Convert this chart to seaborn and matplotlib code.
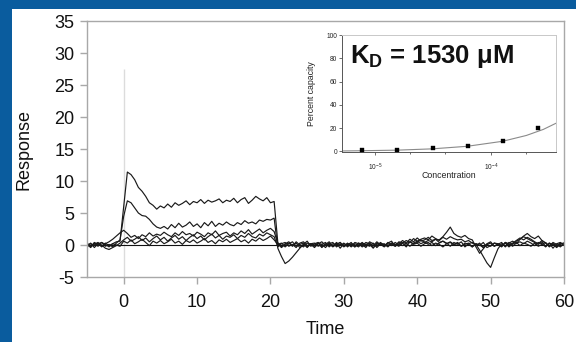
import numpy as np
import pandas as pd
import matplotlib
matplotlib.use("Agg")
import matplotlib.pyplot as plt
import seaborn as sns
from matplotlib.patches import Rectangle
from matplotlib.ticker import FixedLocator, NullFormatter

sns.set_style("white")
plt.rcParams["font.family"] = ["Liberation Sans", "DejaVu Sans"]
plt.rcParams["axes.unicode_minus"] = False
plt.rcParams["mathtext.fontset"] = "custom"
plt.rcParams["mathtext.rm"] = "Liberation Sans"
plt.rcParams["mathtext.bf"] = "Liberation Sans:bold"
plt.rcParams["mathtext.it"] = "Liberation Sans:italic"

# ---------------- data ----------------
time = np.arange(-5, 60.01, 0.5)  # sampling grid, s

trace_a = [0.2, -0.3, 0.4, 0.1, -0.2, 0.3, -0.1, 0.2, 0.5, 0.6,
           6.0, 11.4, 11.0, 10.2, 9.0, 8.4, 7.6, 6.6, 6.2, 5.6,
           6.1, 5.8, 6.4, 5.9, 6.6, 6.2, 6.5, 6.9, 6.3, 6.8,
           6.6, 7.1, 6.5, 7.0, 6.7, 6.9, 7.2, 6.6, 7.0, 6.8,
           7.3, 6.6, 7.1, 7.4, 6.5, 7.0, 7.6, 7.2, 6.9, 7.4,
           6.6, 6.8,
           0.4, -0.3, 0.2, 0.5, -0.1, 0.3, -0.4, 0.1, 0.6, -0.2,
           0.2, 0.4, -0.3, 0.1, 0.5, -0.2, 0.3, -0.5, 0.2, 0.0,
           0.4, -0.3, 0.3, 0.1, -0.4, 0.5, 0.2, -0.2, 0.4, -0.1,
           0.3, 0.6, -0.2, 0.2, 0.7, 0.3, 0.9, 0.5, 1.1, 0.6,
           0.8, 1.2, 0.7, 0.9, 0.4, 0.6, 0.3, -0.2, 0.4, 0.1,
           0.5, -0.3, 0.2, 0.4, -0.1, 0.3, -0.4, 0.2, 0.5, -0.2,
           0.1, 0.4, -0.3, 0.3, 0.6, 0.2, 0.9, 1.3, 1.0, 0.7,
           0.4, 0.1, 0.5, -0.2, 0.3, -0.5, 0.2, 0.4, 0.0]

trace_b = [-0.1, 0.3, -0.4, 0.2, 0.4, -0.2, 0.1, -0.3, 0.3, 0.8,
           4.5, 6.9, 6.6, 5.8, 5.0, 4.6, 4.5, 4.0, 3.3, 2.8,
           2.6, 2.9, 2.5, 3.2, 2.7, 3.4, 2.8, 3.1, 3.6, 2.9,
           3.3, 2.7, 3.5, 3.0, 3.7, 2.9, 3.4, 3.1, 3.6, 3.2,
           3.0, 3.5, 3.2, 3.8, 3.4, 3.6, 3.3, 3.9, 3.7, 4.0,
           3.9, 4.2,
           -0.5, -1.8, -2.9, -2.5, -1.9, -1.2, -0.5, 0.1, -0.3, 0.2,
           -0.2, 0.3, 0.1, -0.4, 0.2, 0.4, -0.3, 0.1, -0.2, 0.3,
           -0.3, 0.2, 0.0, 0.4, -0.2, 0.1, -0.5, 0.3, 0.1, -0.3,
           0.2, -0.1, 0.4, 0.0, 0.3, -0.3, 0.5, 0.2, 0.4, 0.8,
           0.4, 0.7, 0.5, 0.9, 0.8, 1.3, 2.0, 2.8, 1.8, 1.4,
           1.2, 1.5, 1.0, 0.8, -0.3, -1.3, -0.6, 0.1, -0.2, 0.3,
           0.1, -0.3, 0.4, 0.2, -0.2, 0.3, 0.5, 0.2, 0.6, 0.3,
           -0.1, 0.4, 0.2, -0.3, 0.3, 0.1, -0.4, 0.2, 0.3]

trace_c = [0.3, -0.2, 0.1, 0.4, -0.3, 0.2, 0.5, 0.9, 1.4, 1.9,
           2.3, 1.8, 1.2, 1.5, 1.0, 1.6, 1.3, 1.9, 1.4, 1.7,
           1.5, 2.0, 1.6, 1.3, 1.9, 1.5, 2.1, 1.6, 1.8, 1.4,
           2.0, 1.7, 1.3, 1.9, 1.6, 2.2, 1.5, 1.8, 2.0, 1.4,
           1.9, 1.6, 2.2, 1.8, 2.4, 1.7, 2.1, 2.5, 1.9, 2.3,
           2.6, 2.1,
           0.2, -0.4, 0.1, 0.3, -0.2, 0.5, 0.0, -0.3, 0.3, 0.1,
           -0.4, 0.2, 0.5, -0.1, 0.3, -0.3, 0.1, 0.4, -0.2, 0.2,
           0.1, -0.3, 0.3, -0.1, 0.4, 0.2, -0.4, 0.1, 0.3, -0.2,
           0.4, 0.1, -0.2, 0.5, 0.3, 0.7, 0.4, 1.0, 0.6, 0.9,
           1.1, 0.8, 1.4, 1.0, 0.7, 1.2, 0.9, 1.3, 1.0, 0.8,
           0.9, 0.5, 0.7, 0.3, 0.1, -0.8, -1.8, -2.8, -3.5, -2.0,
           -0.6, 0.2, -0.2, 0.4, 0.1, 0.6, 0.9, 1.4, 1.8, 1.3,
           1.0, 1.4, 0.7, 0.3, -0.2, 0.4, 0.1, -0.3, 0.2]

trace_d = [-0.3, 0.2, -0.1, 0.3, 0.0, -0.5, -0.7, -0.4, -0.1, 0.3,
           0.8, 1.2, 0.6, 0.9, 1.3, 0.7, 1.1, 0.5, 1.0, 1.4,
           0.8, 1.2, 0.6, 1.1, 1.5, 0.9, 1.3, 0.7, 1.2, 1.6,
           1.0, 1.4, 0.8, 1.3, 1.7, 1.1, 1.5, 0.9, 1.4, 1.2,
           1.6, 1.0, 1.5, 1.2, 1.8, 1.3, 1.1, 1.7, 1.4, 1.9,
           1.6, 1.3,
           -0.3, 0.2, 0.4, -0.2, 0.1, -0.4, 0.3, 0.5, -0.1, 0.2,
           0.3, -0.2, 0.1, 0.4, -0.3, 0.2, 0.0, 0.4, -0.3, 0.1,
           -0.2, 0.4, 0.2, -0.3, 0.1, 0.3, -0.1, 0.5, 0.0, 0.2,
           -0.3, 0.3, 0.1, -0.2, 0.4, 0.2, -0.2, 0.3, 0.6, 0.2,
           0.5, 0.1, 0.4, -0.1, 0.3, 0.6, 0.2, 0.5, 0.1, 0.4,
           -0.2, 0.3, 0.1, -0.3, 0.2, -0.1, 0.4, -0.4, -0.1, 0.3,
           0.2, -0.2, 0.4, 0.0, 0.3, 0.7, 1.1, 0.8, 1.2, 0.9,
           0.5, 0.2, 0.7, 0.3, -0.1, 0.2, -0.3, 0.1, 0.3]

trace_e = [0.1, -0.4, 0.3, -0.2, 0.4, 0.1, -0.3, 0.2, 0.0, -0.2,
           0.6, 0.3, 0.8, 0.2, 0.5, 0.9, 0.4, -0.1, 0.6, 0.3,
           0.7, 0.2, 0.5, 0.9, 0.3, 0.6, 0.1, 0.7, 0.4, 0.8,
           0.3, 0.6, 1.0, 0.4, 0.7, 0.2, 0.8, 0.5, 0.9, 0.4,
           0.7, 1.0, 0.5, 0.8, 0.3, 0.9, 0.6, 1.1, 0.7, 1.0,
           1.4, 0.8,
           0.1, 0.3, -0.3, 0.2, 0.5, -0.2, 0.1, 0.3, -0.4, 0.2,
           0.0, 0.3, -0.4, 0.2, 0.1, -0.2, 0.4, -0.1, 0.3, -0.3,
           0.2, 0.0, -0.3, 0.3, 0.1, -0.2, 0.3, -0.4, 0.2, 0.1,
           -0.2, 0.3, 0.0, 0.4, -0.1, 0.2, 0.5, 0.1, 0.3, -0.2,
           0.2, 0.4, -0.1, 0.3, 0.1, -0.3, 0.2, 0.4, 0.0, 0.3,
           -0.2, 0.1, 0.3, -0.3, 0.2, 0.0, -0.4, 0.1, 0.3, -0.2,
           0.2, -0.1, 0.3, -0.3, 0.2, 0.4, -0.1, 0.3, 0.1, -0.2,
           0.3, -0.2, 0.1, 0.4, -0.3, 0.2, -0.1, 0.3, 0.0]

traces = {"A": trace_a, "B": trace_b, "C": trace_c, "D": trace_d, "E": trace_e}

# inset: binding isotherm
concentration = [7.8e-6, 1.56e-5, 3.13e-5, 6.25e-5, 1.25e-4, 2.5e-4]
percent_capacity = [0.9, 1.4, 2.6, 4.6, 8.6, 20.1]
fit_concentration = [5.2e-6, 7.8e-6, 1.56e-5, 3.1e-5, 6.2e-5, 1.25e-4, 2.0e-4, 2.8e-4, 3.6e-4]
fit_percent = [0.4, 0.6, 1.1, 2.2, 4.4, 8.7, 13.7, 18.9, 24.2]

x_ticks = [0, 10, 20, 30, 40, 50, 60]
y_ticks = [-5, 0, 5, 10, 15, 20, 25, 30, 35]
inset_y_ticks = [0, 20, 40, 60, 80, 100]
inset_x_ticks = [1e-5, 1e-4]
inset_x_labels = [r"$\mathregular{10^{-5}}$", r"$\mathregular{10^{-4}}$"]
kd_text = r"$\mathbf{K_D}$ = 1530 μM"

# ---------------- figure ----------------
W, H = 576, 342
fig = plt.figure(figsize=(W / 100, H / 100), dpi=100)
fig.patch.set_facecolor("#0a5c9e")
fig.add_artist(Rectangle((12 / W, 0), 1 - 12 / W, 1 - 9 / H, transform=fig.transFigure,
                         facecolor="white", edgecolor="none", zorder=-10))

ax = fig.add_axes([87 / W, 1 - 277 / H, (564 - 87) / W, (277 - 21) / H])
ax.set_facecolor("white")

rows = []
for name, vals in traces.items():
    assert len(vals) == len(time), (name, len(vals))
    rows.append(pd.DataFrame({"Time": time, "Response": vals, "trace": name}))
df = pd.concat(rows, ignore_index=True)

ax.vlines(0, -5, 27.5, color="#dcdcdc", lw=1.0, zorder=0)
ax.axhline(0, color="#111111", lw=0.8, zorder=1)
sns.lineplot(data=df, x="Time", y="Response", units="trace", estimator=None,
             color="#1a1a1a", lw=0.85, ax=ax, legend=False)

ax.set_xlim(-5, 60)
ax.set_ylim(-5, 35)
ax.set_xticks(x_ticks)
ax.set_yticks(y_ticks)
for s in ax.spines.values():
    s.set_visible(True)
    s.set_color("#a8a8a8")
    s.set_linewidth(1.0)
ax.tick_params(axis="both", which="major", direction="out", length=5, width=1,
               color="#a8a8a8", labelsize=13, labelcolor="#111111")
ax.tick_params(axis="x", pad=7, bottom=True)
ax.tick_params(axis="y", pad=4, left=True)
ax.set_xlabel("Time", fontsize=13, color="#111111")
ax.set_ylabel("Response", fontsize=13, color="#111111")
ax.xaxis.set_label_coords(0.5, (277 - 330) / 256)
ax.xaxis.label.set_va("center")
ax.yaxis.set_label_coords((24 - 87) / 477, 0.5)
ax.yaxis.label.set_va("center")

# ---------------- inset ----------------
axi = fig.add_axes([342 / W, 1 - 152 / H, (556 - 342) / W, (152 - 35) / H])
axi.set_facecolor("white")
axi.set_xscale("log")
sns.lineplot(x=fit_concentration, y=fit_percent, color="#8a8a8a", lw=0.8, ax=axi)
sns.scatterplot(x=concentration, y=percent_capacity, marker="s", color="black",
                edgecolor="black", s=11, ax=axi, zorder=3, legend=False)
axi.set_xlim(5.2e-6, 3.6e-4)
axi.set_ylim(-0.5, 100)
axi.xaxis.set_major_locator(FixedLocator(inset_x_ticks))
axi.set_xticklabels(inset_x_labels)
axi.xaxis.set_minor_locator(FixedLocator([2e-5, 4e-5, 2e-4]))
axi.xaxis.set_minor_formatter(NullFormatter())
axi.set_yticks(inset_y_ticks)
for side in ["left", "bottom"]:
    axi.spines[side].set_color("#555555")
    axi.spines[side].set_linewidth(0.7)
for side in ["top", "right"]:
    axi.spines[side].set_visible(True)
    axi.spines[side].set_color("#c8c8c8")
    axi.spines[side].set_linewidth(0.7)
axi.tick_params(axis="both", which="both", direction="out", length=2, width=0.6,
                color="#555555", labelsize=4.8, labelcolor="#222222")
axi.tick_params(axis="x", which="major", pad=5, bottom=True)
axi.tick_params(axis="x", which="minor", length=1.5, bottom=True)
axi.tick_params(axis="y", pad=1.5, left=True)
axi.set_xlabel("Concentration", fontsize=6.3, color="#222222")
axi.set_ylabel("Percent capacity", fontsize=6.3, color="#222222")
axi.xaxis.set_label_coords(0.5, (152 - 175) / 117)
axi.xaxis.label.set_va("center")
axi.yaxis.set_label_coords((312 - 342) / 214, 0.5)
axi.yaxis.label.set_va("center")
axi.text((350 - 342) / 214, (152 - 63.5) / 117, kd_text, transform=axi.transAxes,
         fontsize=18.5, fontweight="bold", ha="left", va="baseline", color="#111111")

fig.savefig("out.png", dpi=100)
